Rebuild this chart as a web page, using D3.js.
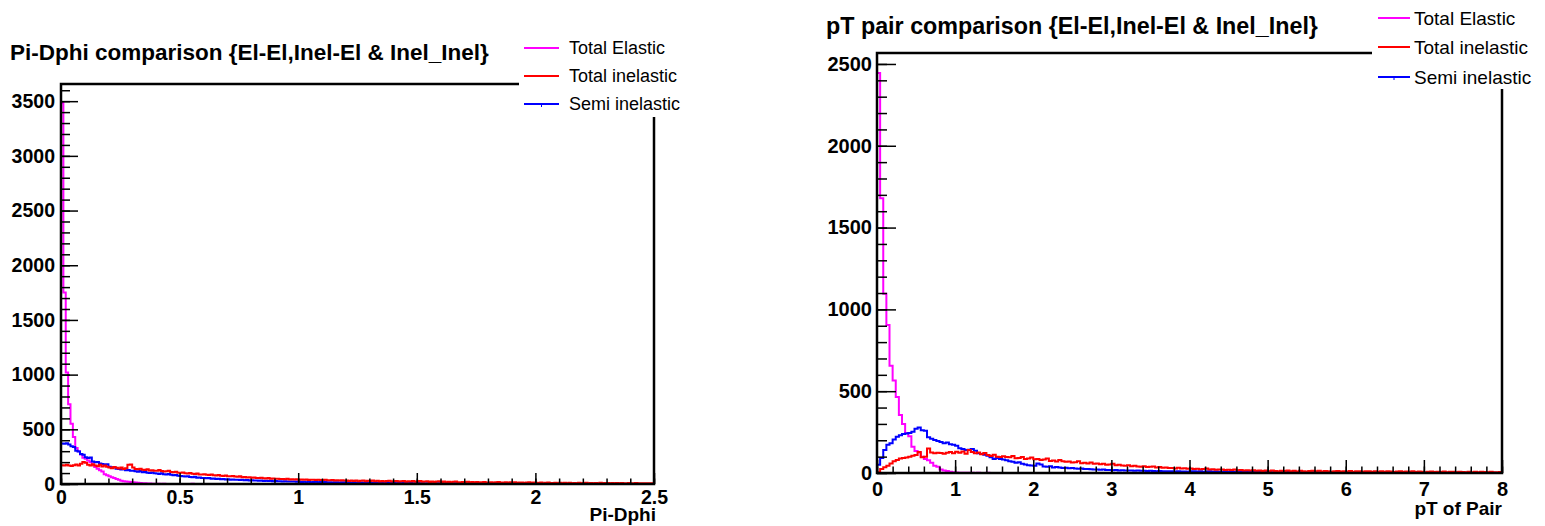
<!DOCTYPE html>
<html>
<head>
<meta charset="utf-8">
<script src="https://cdn.jsdelivr.net/npm/d3@7/dist/d3.min.js"></script>
<style>
  body { margin: 0; background: #fff; }
  svg text { font-family: "Liberation Sans", Arial, Helvetica, sans-serif; }
</style>
</head>
<body>
<svg id="chart" width="1545" height="526"></svg>
<script>
// two ROOT style histogram canvases, Pi-Dphi and pT of pair

var seriesNames = ["Total Elastic", "Total inelastic", "Semi inelastic"];
var seriesColors = ["#ff00ff", "#ff0000", "#0000ff"];

// ---- left: Pi-Dphi, 250 bins of 0.01 ----
var dphiBinWidth = 0.01;
var dphiElastic = [
  3483,1750,1020,730,550,430,330,300,270,240,
  230,215,200,175,155,140,125,115,90,80,
  70,62,55,45,38,30,25,22,20,18,
  16,14,12,10,8,6,5,4,3,3,
  2,2,1,2,1,1,0,1,1,0,
  1,0,1,1,0,2,1,0,1,0,
  1,1,0,0,1,0,1,0,0,1,
  0,1,0,0,1,0,0,1,0,0,
  1,0,0,0,1,0,0,0,1,0,
  0,0,1,0,0,0,0,1,0,0,
  0,1,0,0,0,0,1,0,0,0,
  0,0,0,1,0,0,0,0,0,0,
  1,0,0,0,0,0,0,0,0,1,
  0,0,0,0,0,0,0,0,0,0,
  0,0,0,0,0,0,0,0,0,0,
  0,0,0,0,0,0,0,0,0,0,
  0,0,0,0,0,0,0,0,0,0,
  0,0,0,0,0,0,0,0,0,0,
  0,0,0,0,0,0,0,0,0,0,
  0,0,0,0,0,0,0,0,0,0,
  0,0,0,0,0,0,0,0,0,0,
  0,0,0,0,0,0,0,0,0,0,
  0,0,0,0,0,0,0,0,0,0,
  0,0,0,0,0,0,0,0,0,0,
  0,0,0,0,0,0,0,0,0,0
];
var dphiInelastic = [
  172,168,175,170,165,172,178,168,185,200,
  195,176,168,180,170,162,175,160,168,158,
  150,145,155,148,142,150,138,145,175,178,
  150,138,134,140,130,128,135,124,126,120,
  122,128,118,114,116,120,110,108,112,104,
  102,106,98,96,100,94,92,96,88,86,
  90,84,82,86,80,78,82,76,74,78,
  72,70,74,68,66,70,62,64,60,62,
  58,60,56,54,57,52,50,54,48,50,
  47,49,45,46,44,47,42,44,41,43,
  40,42,38,41,37,39,40,36,38,37,
  36,38,34,35,37,33,35,32,34,33,
  33,28,32,27,31,26,30,32,25,29,
  28,31,25,29,24,28,23,27,29,24,
  25,28,22,26,28,21,25,23,27,20,
  24,28,21,22,26,19,23,18,22,25,
  18,22,17,21,16,20,23,17,15,19,
  16,20,15,19,14,18,13,17,19,14,
  13,17,12,16,18,13,11,15,12,16,
  11,15,10,14,13,9,13,15,10,14,
  12,9,13,8,12,14,9,10,12,8,
  11,8,12,7,11,8,10,7,11,8,
  10,11,7,10,6,10,8,11,7,9,
  9,6,10,7,9,6,9,7,8,9,
  7,8,9,6,8,6,8,7,6,8
];
var dphiSemi = [
  370,368,372,362,345,338,305,298,275,268,
  245,238,242,205,198,200,188,182,176,180,
  158,150,152,140,138,132,135,126,128,120,
  122,116,112,118,108,110,104,100,106,98,
  96,92,98,90,88,92,84,80,82,76,
  74,70,68,72,64,62,66,58,60,55,
  56,52,54,48,50,46,48,44,46,42,
  44,40,42,38,40,36,38,35,36,33,
  34,31,33,30,31,28,30,27,29,26,
  27,25,26,24,25,23,24,22,23,21,
  22,18,21,17,20,16,19,20,15,18,
  17,18,14,17,13,16,17,12,15,16,
  14,15,11,14,12,13,14,10,13,11,
  12,9,12,10,11,12,8,11,9,10,
  11,8,10,7,9,10,7,9,6,8,
  9,6,8,5,7,8,5,7,6,4,
  7,5,4,6,7,4,6,3,5,6,
  5,3,5,6,3,5,3,4,5,3,
  3,4,5,2,4,3,4,2,3,4,
  3,2,3,4,2,3,2,3,2,3,
  2,3,2,1,2,3,1,2,2,1,
  2,1,2,1,0,1,0,0,1,0,
  0,0,0,0,0,0,0,0,0,0,
  0,0,0,0,0,0,0,0,0,0,
  0,0,0,0,0,0,0,0,0,0
];
var dphiXTicks = [0, 0.5, 1, 1.5, 2, 2.5];
var dphiXLabels = ["0", "0.5", "1", "1.5", "2", "2.5"];
var dphiYTicks = [0, 500, 1000, 1500, 2000, 2500, 3000, 3500];

// ---- right: pT of pair, 200 bins of 0.04 ----
var ptBinWidth = 0.04;
var ptElastic = [
  2445,1680,1095,905,655,565,465,355,300,245,
  225,160,135,125,100,85,78,62,45,38,
  22,16,12,7,5,3,2,1,1,2,
  1,0,1,0,0,1,0,0,0,0,
  0,0,0,0,0,0,0,0,0,0,
  0,0,0,0,0,0,0,0,0,0,
  0,0,0,0,0,0,0,0,0,0,
  0,0,0,0,0,0,0,0,0,0,
  0,0,0,0,0,0,0,0,0,0,
  0,0,0,0,0,0,0,0,0,0,
  0,0,0,0,0,0,0,0,0,0,
  0,0,0,0,0,0,0,0,0,0,
  0,0,0,0,0,0,0,0,0,0,
  0,0,0,0,0,0,0,0,0,0,
  0,0,0,0,0,0,0,0,0,0,
  0,0,0,0,0,0,0,0,0,0,
  0,0,0,0,0,0,0,0,0,0,
  0,0,0,0,0,0,0,0,0,0,
  0,0,0,0,0,0,0,0,0,0,
  0,0,0,0,0,0,0,0,0,0
];
var ptInelastic = [
  5,25,35,45,58,72,80,88,92,95,
  100,106,110,128,96,100,150,126,120,124,
  122,118,124,128,120,130,124,132,118,140,
  128,120,126,114,122,110,104,112,100,98,
  102,98,96,104,90,92,98,86,88,94,
  84,86,80,82,88,74,76,70,80,72,
  68,70,64,66,72,60,62,58,64,56,
  58,54,56,50,52,56,48,50,46,44,
  48,42,44,40,38,42,36,38,40,34,
  36,32,34,30,31,28,32,27,29,26,
  28,25,26,23,24,27,22,23,20,21,
  22,19,20,18,21,17,18,16,17,15,
  17,13,16,12,16,11,15,12,10,14,
  12,15,10,14,9,13,11,9,12,13,
  10,13,9,12,11,8,11,12,9,11,
  9,12,8,11,10,7,10,11,8,10,
  8,11,7,10,9,6,9,10,7,9,
  7,10,6,9,8,5,8,9,6,8,
  6,9,5,8,7,5,8,6,5,7,
  5,8,4,7,6,4,7,5,4,6
];
var ptSemi = [
  50,92,140,172,182,205,222,230,238,242,
  245,252,270,278,262,258,218,210,202,196,
  190,182,186,176,172,166,152,146,140,142,
  146,136,120,116,112,106,96,86,92,86,
  82,78,72,68,62,66,56,52,48,46,
  44,58,52,40,38,42,34,36,33,30,
  32,29,30,27,26,28,24,25,23,22,
  22,20,21,18,19,17,18,16,17,15,
  16,15,14,15,13,14,12,13,12,11,
  12,11,10,11,10,9,10,9,9,8,
  11,10,9,10,8,9,10,8,9,8,
  8,9,7,8,7,8,6,7,8,6,
  7,6,7,5,6,7,5,6,5,6,
  5,6,4,5,6,4,5,4,5,4,
  4,5,3,4,5,3,4,3,4,3,
  3,4,3,2,3,4,2,3,2,3,
  2,3,2,3,2,1,2,3,2,2,
  2,1,2,1,2,2,1,2,1,1,
  1,2,1,1,0,1,1,0,1,1,
  0,1,1,0,1,0,0,1,0,0
];
var ptXTicks = [0, 1, 2, 3, 4, 5, 6, 7, 8];
var ptXLabels = ["0", "1", "2", "3", "4", "5", "6", "7", "8"];
var ptYTicks = [0, 500, 1000, 1500, 2000, 2500];

var svg = d3.select("#chart");

function drawPanel(p) {
  var g = svg.append("g");
  var x = d3.scaleLinear().domain([0, p.xmax]).range([p.left, p.right]);
  var y = d3.scaleLinear().domain([0, p.ymax]).range([p.bottom, p.top]);

  // histograms (elastic, semi, inelastic on top)
  var line = d3.line().x(function(d){ return x(d[0]); }).y(function(d){ return y(d[1]); });
  [[p.el, 0], [p.semi, 2], [p.inel, 1]].forEach(function(s) {
    var pts = [[0, 0]];
    s[0].forEach(function(v, i) {
      pts.push([i * p.binWidth, v]);
      pts.push([(i + 1) * p.binWidth, v]);
    });
    pts.push([s[0].length * p.binWidth, 0]);
    g.append("path")
      .attr("d", line(pts))
      .attr("fill", "none")
      .attr("stroke", seriesColors[s[1]])
      .attr("stroke-width", 2);
  });

  // frame
  g.append("rect")
    .attr("x", p.left).attr("y", p.top)
    .attr("width", p.right - p.left).attr("height", p.bottom - p.top)
    .attr("fill", "none").attr("stroke", "#000").attr("stroke-width", 2.5);

  // y axis, ticks inward
  g.append("g")
    .attr("transform", "translate(" + p.left + ",0)")
    .call(d3.axisLeft(y).tickValues(d3.range(0, p.ymax, 100)).tickSize(-p.yMinor).tickFormat(""))
    .call(function(a){ a.select(".domain").remove(); });
  g.append("g")
    .attr("class", "yax")
    .attr("transform", "translate(" + p.left + ",0)")
    .call(d3.axisLeft(y).tickValues(p.yTicks).tickSize(-p.yMajor).tickPadding(p.yPad).tickFormat(d3.format("d")))
    .call(function(a){ a.select(".domain").remove(); });

  // x axis, ticks inward
  g.append("g")
    .attr("transform", "translate(0," + p.bottom + ")")
    .call(d3.axisBottom(x).tickValues(d3.range(0, p.xmax + 1e-9, p.xMinorStep)).tickSize(-p.xMinor).tickFormat(""))
    .call(function(a){ a.select(".domain").remove(); });
  g.append("g")
    .attr("class", "xax")
    .attr("transform", "translate(0," + p.bottom + ")")
    .call(d3.axisBottom(x).tickValues(p.xTicks).tickSize(-p.xMajor).tickPadding(p.xPad)
      .tickFormat(function(d, i){ return p.xLabels[i]; }))
    .call(function(a){ a.select(".domain").remove(); });

  g.selectAll(".tick line").attr("stroke", "#000").attr("stroke-width", 1.5);
  g.selectAll(".yax text, .xax text")
    .attr("fill", "#000")
    .style("font-size", p.tickSize + "px")
    .style("font-weight", "bold");

  // legend box covers the frame corner
  g.append("rect")
    .attr("x", p.legX).attr("y", p.legY)
    .attr("width", p.legW).attr("height", p.legH)
    .attr("fill", "#fff");
  seriesNames.forEach(function(name, i) {
    var ly = p.legRows[i];
    g.append("line")
      .attr("x1", p.legLine[0]).attr("x2", p.legLine[1])
      .attr("y1", ly).attr("y2", ly)
      .attr("stroke", seriesColors[i]).attr("stroke-width", 2);
    if (i == 2) {
      var mid = (p.legLine[0] + p.legLine[1]) / 2;
      g.append("line")
        .attr("x1", mid).attr("x2", mid).attr("y1", ly).attr("y2", ly + 3)
        .attr("stroke", seriesColors[i]).attr("stroke-width", 1);
    }
    g.append("text")
      .attr("x", p.legText).attr("y", ly)
      .attr("dy", "0.36em")
      .style("font-size", p.legSize + "px")
      .text(name);
  });

  g.append("text")
    .attr("x", p.titleX).attr("y", p.titleY)
    .style("font-size", p.titleSize + "px").style("font-weight", "bold")
    .text(p.title);

  g.append("text")
    .attr("x", p.axisTitleX).attr("y", p.axisTitleY)
    .attr("text-anchor", "end")
    .style("font-size", "19px").style("font-weight", "bold")
    .text(p.axisTitle);
}

drawPanel({
  el: dphiElastic, inel: dphiInelastic, semi: dphiSemi, binWidth: dphiBinWidth,
  xmax: 2.5, ymax: 3657,
  left: 61, right: 654, top: 84, bottom: 484,
  xTicks: dphiXTicks, xLabels: dphiXLabels, xMinorStep: 0.1,
  yTicks: dphiYTicks, tickSize: 19.5,
  yMajor: 17, yMinor: 9, xMajor: 11, xMinor: 5.5, yPad: 6, xPad: 6,
  legX: 519, legY: 30, legW: 185, legH: 87,
  legRows: [48, 76, 104], legLine: [524, 559], legText: 569, legSize: 18,
  title: "Pi-Dphi comparison {El-El,Inel-El & Inel_Inel}", titleX: 10, titleY: 60, titleSize: 22.5,
  axisTitle: "Pi-Dphi", axisTitleX: 656, axisTitleY: 521
});

drawPanel({
  el: ptElastic, inel: ptInelastic, semi: ptSemi, binWidth: ptBinWidth,
  xmax: 8, ymax: 2567,
  left: 877, right: 1502, top: 53, bottom: 473,
  xTicks: ptXTicks, xLabels: ptXLabels, xMinorStep: 0.2,
  yTicks: ptYTicks, tickSize: 20,
  yMajor: 19, yMinor: 10, xMajor: 13, xMinor: 6.5, yPad: 5, xPad: 9,
  legX: 1372, legY: 0, legW: 173, legH: 89,
  legRows: [18, 47, 77], legLine: [1378, 1410], legText: 1414, legSize: 19,
  title: "pT pair comparison {El-El,Inel-El & Inel_Inel}", titleX: 826, titleY: 34, titleSize: 23.3,
  axisTitle: "pT of Pair", axisTitleX: 1502, axisTitleY: 515
});
</script>
</body>
</html>
